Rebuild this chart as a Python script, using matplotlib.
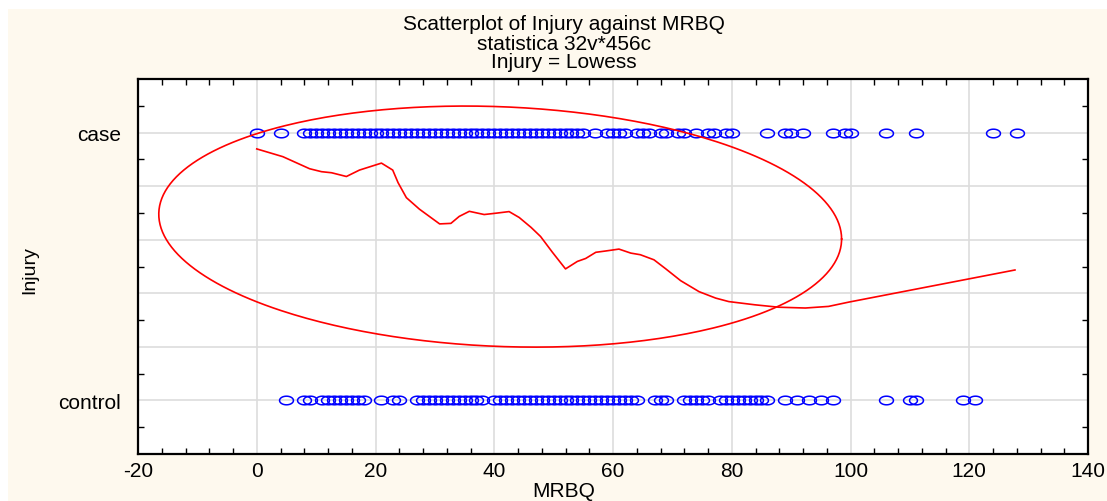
import numpy as np
import matplotlib
matplotlib.use('Agg')
import matplotlib.pyplot as plt
from matplotlib.path import Path
from matplotlib.patches import Rectangle
from matplotlib.ticker import MultipleLocator, FixedLocator, FixedFormatter

plt.rcParams['font.family'] = ['Liberation Sans', 'DejaVu Sans']
plt.rcParams['axes.unicode_minus'] = False

# MRBQ scores per group (y = 1 case, y = 0 control)
case_x = list(range(8, 56)) + [0, 4, 57, 59, 60, 61, 62, 64, 65, 66, 68, 69, 71, 72,
                               74, 76, 77, 79, 80, 86, 89, 90, 92, 97, 99, 100,
                               106, 111, 124, 128]
control_x = [5, 8, 9, 11, 12, 13, 14, 15, 16, 17, 18, 21, 23, 24, 27, 28, 29, 30, 31,
             32, 33, 34, 35, 36, 37, 38, 40, 41, 42, 43, 44, 45, 46, 47] + \
            list(range(48, 60)) + \
            [60, 61, 62, 63, 64, 67, 68, 69, 72, 73, 74, 75, 76, 78, 79, 80, 81, 82,
             83, 84, 85, 86, 89, 91, 93, 95, 97, 106, 110, 111, 119, 121]

# lowess fit
lowess_x = [0, 4.4, 8.9, 10.9, 12.6, 15.1, 17.3, 21.0, 22.9, 23.8, 25.2, 27.4, 30.8,
            32.7, 34.1, 35.8, 38.3, 40.3, 42.5, 44.2, 46.2, 47.8, 49.8, 52.0, 54.0,
            55.4, 57.1, 58.8, 61.0, 63.0, 64.6, 66.9, 68.9, 71.4, 74.5, 77.3, 79.5,
            83.9, 87.9, 92.4, 96.3, 99.7, 127.7]
lowess_y = [0.939, 0.910, 0.865, 0.854, 0.850, 0.836, 0.860, 0.886, 0.860, 0.813,
            0.757, 0.714, 0.659, 0.661, 0.687, 0.706, 0.694, 0.699, 0.705, 0.683,
            0.646, 0.612, 0.553, 0.491, 0.519, 0.530, 0.553, 0.558, 0.565, 0.550,
            0.544, 0.525, 0.491, 0.447, 0.406, 0.382, 0.369, 0.357, 0.348, 0.345,
            0.351, 0.367, 0.487]

# ellipse: centre, half extents, phase between x and y
ell_center = (41.0, 0.649)
ell_half = (57.5, 0.450)
ell_phase = np.deg2rad(95.9)

title_lines = ['Scatterplot of Injury against MRBQ', 'statistica 32v*456c', 'Injury = Lowess']

fig = plt.figure(figsize=(11.07, 5.02), dpi=100, facecolor='white')
fig.patches.append(Rectangle((8 / 1107, 0), 1, (502 - 10) / 502, transform=fig.transFigure,
                             facecolor='#FEF9EE', edgecolor='none', zorder=-10))

ax = fig.add_axes([138 / 1107, 47 / 502, 950 / 1107, 375 / 502])
ax.set_facecolor('white')

# wide open circle marker
t = np.linspace(0, 2 * np.pi, 60)
oval = Path(np.column_stack([np.cos(t), 0.62 * np.sin(t)]))

ax.plot(case_x, np.ones(len(case_x)), linestyle='none', marker=oval, markersize=10,
        markerfacecolor='none', markeredgecolor='#0000FF', markeredgewidth=1.1, zorder=3)
ax.plot(control_x, np.zeros(len(control_x)), linestyle='none', marker=oval, markersize=10,
        markerfacecolor='none', markeredgecolor='#0000FF', markeredgewidth=1.1, zorder=3)

ax.plot(lowess_x, lowess_y, color='#FF0000', lw=1.2, zorder=4)

s = np.linspace(0, 2 * np.pi, 400)
ex = ell_center[0] + ell_half[0] * np.cos(s)
ey = ell_center[1] + ell_half[1] * np.cos(s - ell_phase)
ax.plot(ex, ey, color='#FF0000', lw=1.2, zorder=4)

ax.set_xlim(-20, 140)
ax.set_ylim(-0.2, 1.2)
ax.xaxis.set_major_locator(MultipleLocator(20))
ax.xaxis.set_minor_locator(MultipleLocator(4))
ax.yaxis.set_major_locator(FixedLocator([-0.2, 0, 0.2, 0.4, 0.6, 0.8, 1.0, 1.2]))
ax.yaxis.set_major_formatter(FixedFormatter(['', 'control', '', '', '', '', 'case', '']))
ax.yaxis.set_minor_locator(MultipleLocator(0.1))

ax.grid(True, which='major', color='#DDDDDD', lw=1.2, zorder=0)
ax.set_axisbelow(True)
ax.tick_params(which='both', direction='in', top=True, right=True, labelsize=15, color='black')
ax.tick_params(which='major', length=0)
ax.tick_params(axis='x', which='major', pad=5)
ax.tick_params(axis='y', which='major', pad=12)
ax.tick_params(which='minor', length=4, width=1)
for sp in ax.spines.values():
    sp.set_linewidth(1.6)
    sp.set_color('black')

fig.text(564 / 1107, 1 - 492 / 502, 'MRBQ', ha='center', va='center', fontsize=15)
fig.text(30 / 1107, 1 - 270 / 502, 'Injury', ha='center', va='center', rotation=90,
         fontsize=14, family=['Liberation Sans Narrow', 'Liberation Sans'])

for line, ypix in zip(title_lines, [25, 44, 62]):
    fig.text(564 / 1107, 1 - ypix / 502, line, ha='center', va='center', fontsize=15)

fig.savefig('out.png', dpi=100, facecolor=fig.get_facecolor())
